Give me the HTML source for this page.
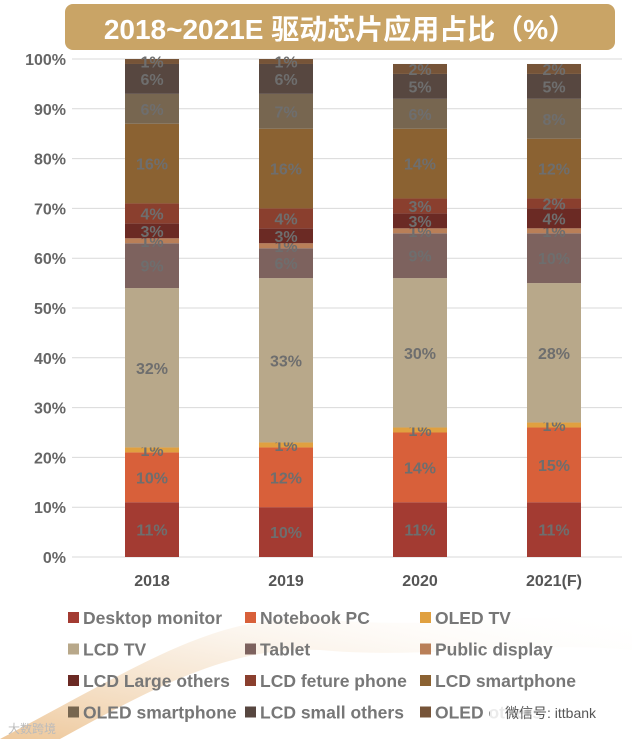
<!DOCTYPE html>
<html><head><meta charset="utf-8"><style>
body{margin:0;width:632px;height:739px;overflow:hidden;background:#fff;font-family:"Liberation Sans","Noto Sans CJK SC",sans-serif}
</style></head><body>
<svg id="c" width="632" height="739" xmlns="http://www.w3.org/2000/svg">
<defs><linearGradient id="sw" x1="0" y1="1" x2="1" y2="0"><stop offset="0" stop-color="#e6b070" stop-opacity="0.7"/><stop offset="0.5" stop-color="#f3dcc0" stop-opacity="0.5"/><stop offset="1" stop-color="#fff" stop-opacity="0"/></linearGradient></defs>
<path d="M0,739 C150,660 220,610 330,620 C450,630 520,610 632,620 L632,650 C520,640 430,660 320,650 C230,645 150,690 60,739 Z" fill="url(#sw)"/>
<g id="grid"></g><g id="bars"></g><g id="legend"></g>
<rect x="65" y="4" width="550" height="46" rx="8" fill="#c9a466"/>
<text x="340" y="39" text-anchor="middle" font-size="28" font-weight="bold" fill="#fff">2018~2021E 驱动芯片应用占比（%）</text>
<text x="8" y="733" font-size="12" fill="#bbb">大数跨境</text>
<rect x="490" y="702" width="130" height="20" fill="#fff" opacity="0.85"/>
<text x="505" y="718" font-size="14" fill="#555">微信号: ittbank</text>
</svg>
<script>
const categories=["2018","2019","2020","2021(F)"];
const seriesNames=["Desktop monitor","Notebook PC","OLED TV","LCD TV","Tablet","Public display","LCD Large others","LCD feture phone","LCD smartphone","OLED smartphone","LCD small others","OLED others"];
const s2018=[11,10,1,32,9,1,3,4,16,6,6,1];
const s2019=[10,12,1,33,6,1,3,4,16,7,6,1];
const s2020=[11,14,1,30,9,1,3,3,14,6,5,2];
const s2021=[11,15,1,28,10,1,4,2,12,8,5,2];
const values=[s2018,s2019,s2020,s2021];
const yTicks=[0,10,20,30,40,50,60,70,80,90,100];
const colors=["#a33b32","#d8603a","#e0a040","#b8a88a","#7d625e","#b97f58","#6b2a24","#8a3f2e","#8b6232","#776650","#574740","#765438"];
const NS="http://www.w3.org/2000/svg";
const y=v=>557-v*4.98;
const x=i=>152+i*134;
function mk(t,a,p,txt){const e=document.createElementNS(NS,t);for(const k in a)e.setAttribute(k,a[k]);if(txt!==undefined)e.textContent=txt;p.appendChild(e);return e;}
const grid=document.getElementById('grid');
yTicks.forEach(t=>{
 const l=mk('line',{x1:72,x2:622,y1:y(t),y2:y(t),stroke:'#d9d9d9','stroke-width':1},grid);
 
 
 const tx=mk('text',{x:66,y:y(t)+6,'text-anchor':'end','font-size':16,'font-weight':'bold',fill:'#666'},grid,t+'%');
 
 
});
const bars=document.getElementById('bars');
categories.forEach((c,i)=>{
 let acc=0;
 values[i].forEach((v,j)=>{
  const r=mk('rect',{x:x(i)-27,y:y(acc+v),width:54,height:v*4.98,fill:colors[j]},bars);
  
  
  const t=mk('text',{x:x(i),y:y(acc+v/2)+6,'text-anchor':'middle','font-size':16,'font-weight':'bold',fill:'#6e6e6e'},bars,v+'%');
  
  
  acc+=v;
 });
 const ct=mk('text',{x:x(i),y:586,'text-anchor':'middle','font-size':16,'font-weight':'bold',fill:'#555'},bars,c);
 
 
});
const lg=document.getElementById('legend');
seriesNames.forEach((n,k)=>{
 const col=k%3,row=Math.floor(k/3);
 const lx=[68,245,420][col],ly=624+row*31.5;
 const r=mk('rect',{x:lx,y:ly-12,width:11,height:11,fill:colors[k]},lg);
 
 
 const t=mk('text',{x:lx+15,y:ly,'font-size':17.5,'font-weight':'bold',fill:'#777'},lg,n);
 
 
});
</script>
</body></html>
